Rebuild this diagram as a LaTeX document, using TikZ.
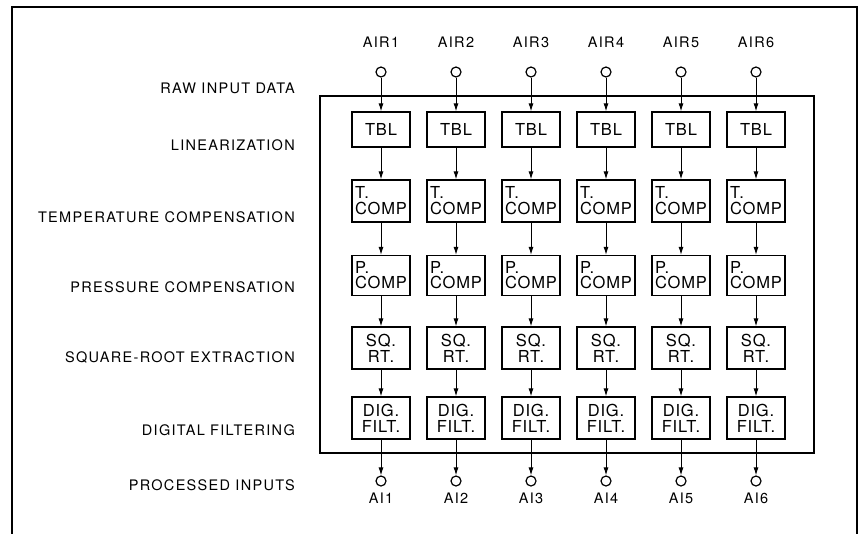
\documentclass[tikz,border=0pt]{standalone}
\usepackage{fontspec}
\setmainfont{TeX Gyre Heros}
\newfontfamily\lblfont[LetterSpace=9]{TeX Gyre Heros}
\newfontfamily\boxfont[LetterSpace=5]{TeX Gyre Heros}
\usetikzlibrary{arrows.meta}
\begin{document}
\begin{tikzpicture}[x=1pt,y=-1pt,
  lbl/.style={anchor=east,inner sep=0pt,font=\lblfont\fontsize{14.5}{15}\selectfont},
  blk/.style={draw,line width=1.2pt,minimum width=58pt,inner sep=1pt,font=\boxfont\fontsize{16.5}{17}\selectfont},
  port/.style={draw,circle,line width=1.2pt,minimum size=10pt,inner sep=0pt},
  sig/.style={inner sep=0pt,font=\lblfont\fontsize{14.5}{15}\selectfont},
  flow/.style={line width=1pt,-{Latex[length=8pt,width=5pt]}}
]
\useasboundingbox (0,0) rectangle (861,533);
% outer frame (bottom edge lies outside the picture)
\draw[line width=1.8pt] (12,540) -- (12,7) -- (857,7) -- (857,540);
% inner processing box
\draw[line width=1.4pt] (320,96) rectangle (814,453);
% row labels
\node[lbl] (lraw) at (295,88) {RAW INPUT DATA};
\node[lbl] (llin) at (295,145) {LINEARIZATION};
\node[lbl] (ltc) at (295,217) {TEMPERATURE COMPENSATION};
\node[lbl] (lpc) at (295,287) {PRESSURE COMPENSATION};
\node[lbl] (lsq) at (295,357) {SQUARE-ROOT EXTRACTION};
\node[lbl] (ldf) at (295,430) {DIGITAL FILTERING};
\node[lbl] (lpi) at (295,485) {PROCESSED INPUTS};
% columns
\foreach \i/\x in {1/381,2/456,3/531,4/606,5/681,6/756}{
  \node[sig] (air\i) at (\x,42) {AIR\i};
  \node[port] (in\i) at (\x,72) {};
  \node[blk,minimum height=35pt] (tbl\i) at (\x,129.5) {TBL};
  \node[blk,minimum height=42pt,align=left] (tc\i) at (\x,201) {T.\\[-1pt]COMP};
  \node[blk,minimum height=40pt,align=left] (pc\i) at (\x,275.5) {P.\\[-2pt]COMP};
  \node[blk,minimum height=42pt,align=center] (sq\i) at (\x,348) {SQ.\\[-1pt]RT.};
  \node[blk,minimum height=42pt,align=center] (df\i) at (\x,418) {DIG.\\[-1pt]FILT.};
  \node[port] (out\i) at (\x,481) {};
  \node[sig] (ai\i) at (\x,498) {AI\i};
  \draw[flow] (in\i) -- (tbl\i);
  \draw[flow] (tbl\i) -- (tc\i);
  \draw[flow] (tc\i) -- (pc\i);
  \draw[flow] (pc\i) -- (sq\i);
  \draw[flow] (sq\i) -- (df\i);
  \draw[flow] (df\i) -- (out\i);
}
\end{tikzpicture}
\end{document}
